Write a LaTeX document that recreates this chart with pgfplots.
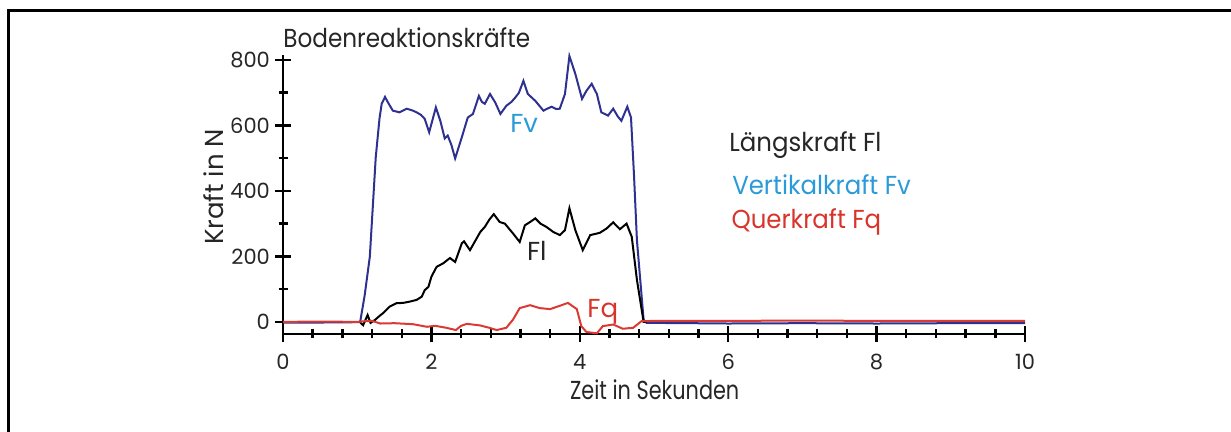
\documentclass[border=0pt]{standalone}
\usepackage{pgfplots}
\pgfplotsset{compat=1.18}
\usepackage{fontspec}
\setmainfont{Poppins}
\newfontfamily\titlefont{Poppins}[FakeStretch=0.89]
\newfontfamily\xlabfont{Poppins}[FakeStretch=0.8]
\newfontfamily\legfont{Poppins}[FakeStretch=0.94]
\definecolor{fvline}{HTML}{2E3190}
\definecolor{fqline}{HTML}{D93A33}
\definecolor{fvtext}{HTML}{2A9AD8}
\definecolor{fqtext}{HTML}{D8342B}

\begin{document}
\begin{tikzpicture}
\useasboundingbox (0,0) rectangle (615.5pt,216pt);
\begin{axis}[
  at={(141.5pt,49pt)}, anchor=south west,
  scale only axis, width=371pt, height=139.5pt,
  xmin=0, xmax=10, ymin=-37, ymax=815,
  clip=false,
  axis lines*=left,
  axis line style={line width=1.2pt},
  xtick={0,2,...,10}, ytick={0,200,...,800},
  minor x tick num=4, minor y tick num=1,
  tick align=center,
  major tick length=8pt, minor tick length=4.5pt,
  major tick style={black, line width=1.2pt},
  minor tick style={black, line width=1.2pt},
  /pgf/number format/assume math mode=true,
  ticklabel style={font=\fontsize{10.5}{12}\selectfont, text=black!85},
  yticklabel style={xshift=1pt},
  xticklabel style={yshift=-2.5pt},
  xlabel={Zeit in Sekunden},
  ylabel={Kraft in N},
  xlabel style={font=\xlabfont\fontsize{13}{15}\selectfont, text=black!85,
    at={(axis description cs:0.501,-0.2)}, anchor=center},
  ylabel style={font=\fontsize{13}{15}\selectfont, text=black!85,
    at={(axis description cs:-0.094,0.527)}, anchor=center},
]
\addplot[fvline, line width=1pt] coordinates {
(0,-2) (0.5,-2) (1.0,-1) (1.04,0) (1.10,80) (1.17,199) (1.25,503) (1.30,620) (1.33,666) (1.375,687)
(1.42,668) (1.48,645) (1.57,640) (1.667,651) (1.74,646) (1.80,640) (1.86,632) (1.91,620) (1.97,579) (2.06,655)
(2.12,614) (2.18,560) (2.22,569) (2.27,540) (2.32,499) (2.41,564) (2.49,624) (2.56,635)
(2.64,690) (2.68,672) (2.72,666) (2.79,696) (2.86,670) (2.93,635) (3.01,660) (3.08,672) (3.13,685)
(3.18,700) (3.24,736) (3.30,696) (3.40,675) (3.51,645) (3.57,652) (3.62,657) (3.68,650) (3.73,651) (3.80,696)
(3.86,812) (3.94,757) (4.03,681) (4.09,706) (4.16,727) (4.23,696) (4.29,640)
(4.38,630) (4.45,651) (4.51,628) (4.56,614) (4.64,657) (4.69,624) (4.73,450) (4.77,249) (4.86,6)
(4.9,-3) (5.5,-4) (6,-5) (7,-4) (8,-5) (9,-4) (10,-4)};
\addplot[black, line width=1pt] coordinates {
(1.04,-2) (1.08,-10) (1.14,21) (1.18,-3) (1.24,6) (1.30,18) (1.35,27) (1.44,47) (1.53,57) (1.62,58)
(1.71,62) (1.80,67) (1.87,77) (1.91,97) (1.96,107) (2.00,138) (2.07,168) (2.16,179) (2.25,195) (2.32,183)
(2.41,240) (2.44,246) (2.52,219) (2.61,255) (2.66,275) (2.72,290) (2.78,312) (2.84,329) (2.92,305)
(2.99,300) (3.10,270) (3.19,244) (3.26,295) (3.33,305) (3.40,316) (3.47,300) (3.55,290) (3.64,275) (3.73,265)
(3.80,280) (3.86,347) (3.94,280) (4.04,219) (4.14,265) (4.27,272) (4.36,285)
(4.45,304) (4.54,283) (4.63,300) (4.70,260) (4.77,128) (4.86,0) (4.9,0)};
\addplot[fqline, line width=1pt] coordinates {
(0,0) (0.5,1) (1.0,0) (1.1,2) (1.2,3) (1.31,-5) (1.5,-4) (1.75,-7) (1.94,-15)
(2.05,-12) (2.20,-18) (2.33,-25) (2.40,-12) (2.48,-6) (2.66,-11) (2.78,-18)
(2.88,-25) (3.01,-18) (3.10,7) (3.19,42) (3.33,51) (3.46,42) (3.60,39) (3.73,49)
(3.84,58) (3.96,39) (4.02,-13) (4.09,-31) (4.23,-35) (4.31,-13) (4.45,-8)
(4.58,-21) (4.72,-18) (4.83,2) (5,3) (6,3) (7,4) (8,3) (9,3) (10,3)};
\node[anchor=base west, font=\titlefont\fontsize{13}{15}\selectfont, text=black!85, inner sep=0pt] at (axis cs:0,837) {Bodenreaktionskräfte};
\node[font=\fontsize{13}{15}\selectfont, text=fvtext] at (axis cs:3.25,605) {Fv};
\node[font=\fontsize{13}{15}\selectfont, text=black!85] at (axis cs:3.42,216) {Fl};
\node[font=\fontsize{13}{15}\selectfont, text=fqtext] at (axis cs:4.31,30) {Fq};
\node[anchor=west, inner sep=0pt, font=\legfont\fontsize{13}{15}\selectfont, text=black!85] at (axis cs:6.01,541) {Längskraft Fl};
\node[anchor=west, inner sep=0pt, font=\legfont\fontsize{13}{15}\selectfont, text=fvtext] at (axis cs:6.05,420) {Vertikalkraft Fv};
\node[anchor=west, inner sep=0pt, font=\legfont\fontsize{13}{15}\selectfont, text=fqtext] at (axis cs:6.04,304) {Querkraft Fq};
\end{axis}
\draw[line width=1.5pt] (4pt,-2pt) -- (4pt,210.5pt) -- (618pt,210.5pt);
\end{tikzpicture}
\end{document}
